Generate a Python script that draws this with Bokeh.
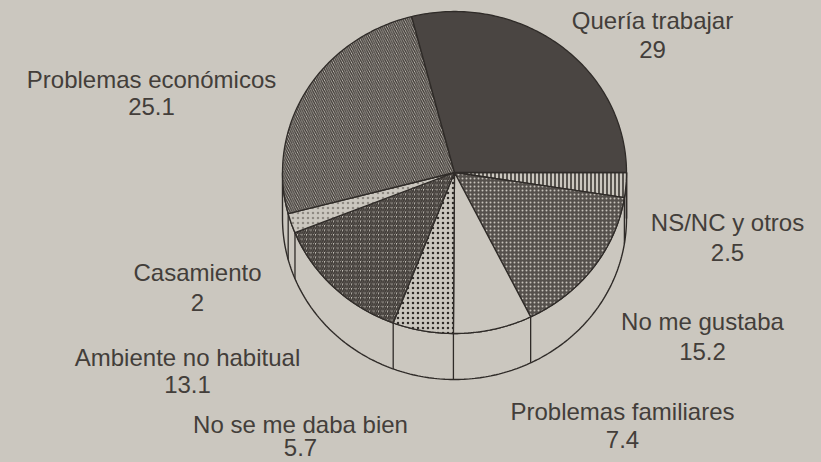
import numpy as np
from bokeh.plotting import figure
from bokeh.models import Range1d
from bokeh.core.properties import value
from bokeh.embed import file_html
from bokeh.resources import INLINE

# ---- data (clockwise from 3 o'clock) ----
categories = ["NS/NC y otros", "No me gustaba", "Problemas familiares",
              "No se me daba bien", "Ambiente no habitual", "Casamiento",
              "Problemas económicos", "Quería trabajar"]
values = [2.5, 15.2, 7.4, 5.7, 13.1, 2.0, 25.1, 29.0]
value_labels = ["2.5", "15.2", "7.4", "5.7", "13.1", "2", "25.1", "29"]

# ---- layout / style (not data) ----
label_x = [727, 702, 622, 300, 187, 197, 151, 652]
label_y = [222, 321, 411, 424, 357, 272, 79, 20]
value_y = [252, 351, 439, 447, 384, 302, 106, 49]
CX, CY, RX, RY, DEPTH = 454, 172, 172, 161, 46
START_DEG = 90.0

PAPER = "#cbc7bf"
INK = "#2f2b28"
TEXT = "#433e3a"

styles = [
    dict(fill_color=PAPER, hatch_pattern="|", hatch_color=INK, hatch_scale=4, hatch_weight=1.5),
    dict(fill_color="#55504c", hatch_pattern=".", hatch_color="#c6c2ba", hatch_scale=4, hatch_weight=1.2),
    dict(fill_color=PAPER),
    dict(fill_color=PAPER, hatch_pattern=".", hatch_color=INK, hatch_scale=5, hatch_weight=2.0),
    dict(fill_color=PAPER, hatch_pattern="/", hatch_color="#3f3a36", hatch_scale=4.5, hatch_weight=1.8),
    dict(fill_color=PAPER, hatch_pattern=".", hatch_color="#8f8a83", hatch_scale=5, hatch_weight=1.5),
    dict(fill_color=PAPER, hatch_pattern="\\", hatch_color="#3f3a36", hatch_scale=4.5, hatch_weight=1.4),
    dict(fill_color="#4a4542"),
]

W, H = 821, 462
p = figure(width=W, height=H, output_backend="svg", toolbar_location=None,
           x_range=Range1d(0, W), y_range=Range1d(H, 0),
           min_border=0, background_fill_color=PAPER, border_fill_color=PAPER,
           outline_line_color=None)
p.axis.visible = False
p.grid.visible = False


def ex(a):
    return CX + RX * np.sin(np.radians(a))


def ey(a, dz=0.0):
    return CY - RY * np.cos(np.radians(a)) + dz


total = float(sum(values))
bounds = [START_DEG]
for v in values:
    bounds.append(bounds[-1] + v / total * 360.0)

# side band (front half, 90..270 deg)
arc = np.linspace(90, 270, 200)
bx = list(ex(arc)) + list(ex(arc[::-1]))
by = list(ey(arc)) + list(ey(arc[::-1], DEPTH))
p.patch(bx, by, fill_color=PAPER, line_color=INK, line_width=1.4)

# vertical edges on band
vx, vy0, vy1 = [], [], []
for b in bounds:
    a = b % 360
    if 90 <= a <= 270:
        vx.append(ex(a)); vy0.append(ey(a)); vy1.append(ey(a, DEPTH))
p.segment(x0=vx, y0=vy0, x1=vx, y1=vy1, line_color=INK, line_width=1.3)

# top slices
for i in range(len(values)):
    a = np.linspace(bounds[i], bounds[i + 1], 120)
    xs = [CX] + list(ex(a)) + [CX]
    ys = [CY] + list(ey(a)) + [CY]
    p.patch(xs, ys, line_color=INK, line_width=1.3, **styles[i])

# labels
p.text(x=label_x, y=label_y, text=categories, text_align="center",
       text_baseline="middle", text_font=value("Liberation Sans"),
       text_font_size="24px", text_color=TEXT)
p.text(x=label_x, y=value_y, text=value_labels,
       text_align="center", text_baseline="middle",
       text_font=value("Liberation Sans"), text_font_size="24px", text_color=TEXT)

html = file_html(p, INLINE)
html = html.replace("</head>", "<style>html,body{background:%s;overflow:hidden}</style></head>" % PAPER, 1)
open("out.html", "w").write(html)
